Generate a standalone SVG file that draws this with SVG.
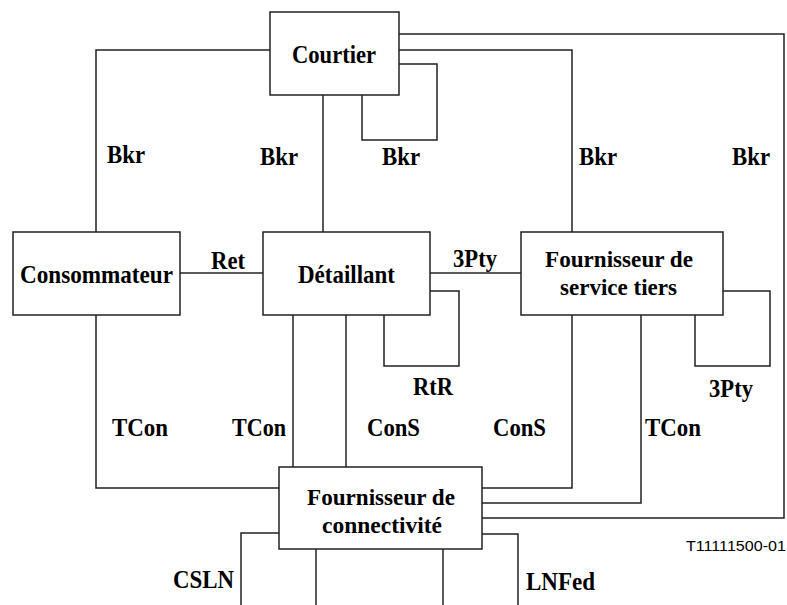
<svg xmlns="http://www.w3.org/2000/svg" width="787" height="605" viewBox="0 0 787 605">
<style>
.box{fill:#fff;stroke:#222;stroke-width:1.5}
.c{fill:none;stroke:#222;stroke-width:1.5}
.n{font-family:"Liberation Serif","Times New Roman",serif;font-weight:bold;font-size:26px;fill:#000;text-anchor:middle}
.n2{font-size:24px}
.l{font-family:"Liberation Serif","Times New Roman",serif;font-weight:bold;font-size:26px;fill:#000}
.ref{font-family:"Liberation Sans",Arial,sans-serif;font-size:15px;fill:#000}
</style>
<rect width="787" height="605" fill="#fff"/>
<g id="connectors">
<path class="c" d="M270,50 H96 V232"/>
<path class="c" d="M323,95 V232"/>
<path class="c" d="M399,64 H437 V140 H362 V95"/>
<path class="c" d="M399,50 H572 V232"/>
<path class="c" d="M399,34 H784 V518 H482"/>
<path class="c" d="M180,273 H263"/>
<path class="c" d="M430,273 H521"/>
<path class="c" d="M430,291 H459 V366 H384 V315"/>
<path class="c" d="M723,291 H770 V366 H695 V315"/>
<path class="c" d="M96,315 V488 H279"/>
<path class="c" d="M293,315 V467"/>
<path class="c" d="M346,315 V467"/>
<path class="c" d="M572,315 V488 H482"/>
<path class="c" d="M641,315 V503 H482"/>
<path class="c" d="M279,533 H241 V605"/>
<path class="c" d="M316,549 V605"/>
<path class="c" d="M443,549 V605"/>
<path class="c" d="M482,534 H518 V605"/>
</g>
<g id="labels">
<text class="l" x="107" y="163" textLength="38" lengthAdjust="spacingAndGlyphs">Bkr</text>
<text class="l" x="260" y="165" textLength="38" lengthAdjust="spacingAndGlyphs">Bkr</text>
<text class="l" x="382" y="165" textLength="38" lengthAdjust="spacingAndGlyphs">Bkr</text>
<text class="l" x="579" y="165" textLength="38" lengthAdjust="spacingAndGlyphs">Bkr</text>
<text class="l" x="732" y="165" textLength="38" lengthAdjust="spacingAndGlyphs">Bkr</text>
<text class="l" x="211" y="269" textLength="34" lengthAdjust="spacingAndGlyphs">Ret</text>
<text class="l" x="453" y="267" textLength="44" lengthAdjust="spacingAndGlyphs">3Pty</text>
<text class="l" x="413" y="395" textLength="40" lengthAdjust="spacingAndGlyphs">RtR</text>
<text class="l" x="709" y="397" textLength="44" lengthAdjust="spacingAndGlyphs">3Pty</text>
<text class="l" x="112" y="436" textLength="56" lengthAdjust="spacingAndGlyphs">TCon</text>
<text class="l" x="232" y="436" textLength="54" lengthAdjust="spacingAndGlyphs">TCon</text>
<text class="l" x="367" y="436" textLength="53" lengthAdjust="spacingAndGlyphs">ConS</text>
<text class="l" x="493" y="436" textLength="53" lengthAdjust="spacingAndGlyphs">ConS</text>
<text class="l" x="645" y="436" textLength="56" lengthAdjust="spacingAndGlyphs">TCon</text>
<text class="l" x="173" y="588" textLength="61" lengthAdjust="spacingAndGlyphs">CSLN</text>
<text class="l" x="526" y="590" textLength="69" lengthAdjust="spacingAndGlyphs">LNFed</text>
<text class="ref" x="686" y="551" textLength="100" lengthAdjust="spacingAndGlyphs">T11111500-01</text>
</g>
<g id="courtier">
<rect class="box" x="270" y="12" width="129" height="83"/>
<text class="n" x="334" y="63" textLength="84" lengthAdjust="spacingAndGlyphs">Courtier</text>
</g>
<g id="consommateur">
<rect class="box" x="13" y="232" width="167" height="83"/>
<text class="n" x="96.5" y="283" textLength="153" lengthAdjust="spacingAndGlyphs">Consommateur</text>
</g>
<g id="detaillant">
<rect class="box" x="263" y="232" width="167" height="83"/>
<text class="n" x="346.5" y="283" textLength="97" lengthAdjust="spacingAndGlyphs">Détaillant</text>
</g>
<g id="fournisseur-service-tiers">
<rect class="box" x="521" y="232" width="202" height="83"/>
<text class="n n2" x="619" y="267" textLength="148" lengthAdjust="spacingAndGlyphs">Fournisseur de</text>
<text class="n n2" x="618.5" y="295" textLength="117" lengthAdjust="spacingAndGlyphs">service tiers</text>
</g>
<g id="fournisseur-connectivite">
<rect class="box" x="279" y="467" width="203" height="82"/>
<text class="n n2" x="381" y="505" textLength="148" lengthAdjust="spacingAndGlyphs">Fournisseur de</text>
<text class="n n2" x="382" y="533" textLength="120" lengthAdjust="spacingAndGlyphs">connectivité</text>
</g>
</svg>
